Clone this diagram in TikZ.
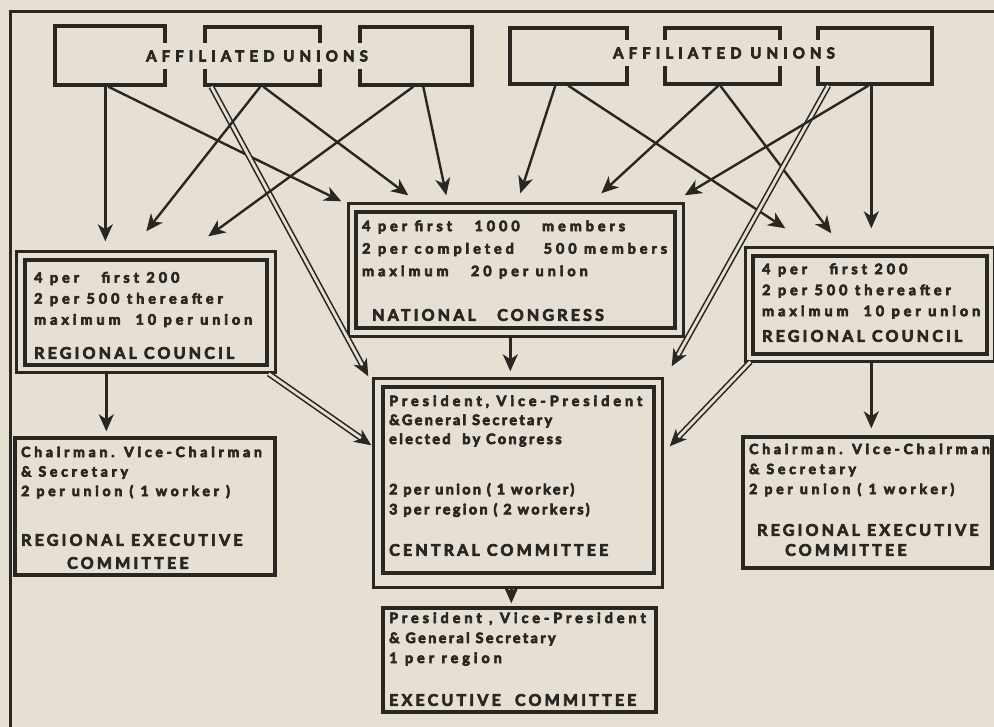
\documentclass[tikz,border=0pt]{standalone}
\usepackage{fontspec}
\newfontfamily\lblfont{Lato}[LetterSpace=28]
\newfontfamily\tightfont{Lato}[LetterSpace=17]
\newfontfamily\recfont{Lato}[LetterSpace=27]
\newfontfamily\capfont{Lato}[LetterSpace=20]
\newfontfamily\aufont{Lato}[LetterSpace=34]
\usetikzlibrary{arrows.meta,calc}
\definecolor{paper}{HTML}{E6E0D4}
\definecolor{ink}{HTML}{2A2622}
\begin{document}
\begin{tikzpicture}[x=1pt,y=-1pt,
  heavy/.style={execute at begin node={\special{pdf:literal direct 2 Tr 0.7 w}},
    execute at end node={\special{pdf:literal direct 0 Tr}}},
  box/.style={draw=ink,line width=3.4pt,inner sep=0pt,fill=none},
  outerbox/.style={draw=ink,line width=2.8pt},
  txt/.style={heavy,text=ink,anchor=west,inner sep=0pt,align=left,
    font=\lblfont\bfseries\fontsize{14.3}{21}\selectfont},
  rectxt/.style={txt,font=\recfont\bfseries\fontsize{14}{19.5}\selectfont},
  captxt/.style={heavy,text=ink,anchor=west,inner sep=0pt,
    font=\capfont\bfseries\fontsize{16}{18}\selectfont},
  au/.style={heavy,text=ink,fill=paper,inner xsep=2pt,inner ysep=7pt,
    font=\aufont\bfseries\fontsize{15}{17}\selectfont},
  arr/.style={draw=ink,line width=2.4pt,-{Stealth[length=17pt,width=15pt,inset=5pt]}},
  dbl/.style={draw=ink,line width=1.6pt,double=paper,double distance=2.8pt,
    -{Stealth[length=17pt,width=15pt,inset=5pt]}}
]
\useasboundingbox (0,0) rectangle (994,727);
\fill[paper] (0,0) rectangle (994,727);
% outer frame
\draw[ink,line width=3pt] (10,740) -- (10,12) -- (1000,12);

% affiliated union boxes
\node[box,minimum width=110pt,minimum height=59pt] (u1) at (110,55.5) {};
\node[box,minimum width=115pt,minimum height=58pt] (u2) at (262.5,56) {};
\node[box,minimum width=112pt,minimum height=58pt] (u3) at (416,56) {};
\node[box,minimum width=117pt,minimum height=56pt] (u4) at (568.5,56) {};
\node[box,minimum width=115pt,minimum height=56pt] (u5) at (722.5,56) {};
\node[box,minimum width=114pt,minimum height=56pt] (u6) at (875,56) {};
\node[au] (au1) at (257,56) {AFFILIATED UNIONS};
\node[au] (au2) at (724,53) {AFFILIATED UNIONS};

% regional council left
\node[box,minimum width=242pt,minimum height=105pt] (rcl) at (146,312.5) {};
\draw[outerbox] ([shift={(-7pt,7pt)}]rcl.north west) rectangle ([shift={(7pt,-6pt)}]rcl.south east);
\node[txt] (rclt) at (34,299.5) {4 per\ \ \ first 200\\2 per 500 thereafter\\maximum\ \ 10 per union};
\node[captxt] (rcll) at (34,353) {REGIONAL COUNCIL};

% regional council right
\node[box,minimum width=234pt,minimum height=98pt] (rcr) at (870,305) {};
\draw[outerbox] ([shift={(-6pt,7pt)}]rcr.north west) rectangle ([shift={(6pt,-6pt)}]rcr.south east);
\node[txt] (rcrt) at (762,291) {4 per\ \ \ first 200\\2 per 500 thereafter\\maximum\ \ 10 per union};
\node[captxt] (rcrl) at (762,336) {REGIONAL COUNCIL};

% national congress
\node[box,minimum width=319pt,minimum height=116pt] (nc) at (515.5,270) {};
\draw[outerbox] ([shift={(-6pt,7pt)}]nc.north west) rectangle ([shift={(7pt,-7pt)}]nc.south east);
\node[txt,font=\lblfont\bfseries\fontsize{14.3}{22.5}\selectfont] (nct) at (362,249.5) {4 per first\ \ \ 1000\ \ \ members\\2 per completed\ \ \ \ 500 members\\maximum\ \ \ 20 per union};
\node[captxt] (ncl) at (372,315) {NATIONAL\ \ \ CONGRESS};

% central committee
\node[box,minimum width=271pt,minimum height=186pt] (cc) at (518.5,480) {};
\draw[outerbox] ([shift={(-8pt,7pt)}]cc.north west) rectangle ([shift={(7pt,-13pt)}]cc.south east);
\node[txt,font=\lblfont\bfseries\fontsize{14.3}{19}\selectfont] (cct) at (389,421) {President, Vice-President\\{\tightfont\bfseries \&General Secretary}\\{\tightfont\bfseries elected\ \ by Congress}};
\node[txt,font=\tightfont\bfseries\fontsize{14.3}{20}\selectfont] (cct2) at (389,500) {2 per union ( 1 worker)\\3 per region ( 2 workers)};
\node[captxt] (ccl) at (389,550) {CENTRAL COMMITTEE};

% executive committee
\node[box,minimum width=273pt,minimum height=104pt] (ec) at (519.5,660) {};
\node[txt,font=\lblfont\bfseries\fontsize{14.3}{20}\selectfont] (ect) at (389,639) {President , Vice-President\\{\tightfont\bfseries \& General Secretary}\\1 per region};
\node[captxt] (ecl) at (389,700) {EXECUTIVE\ \ COMMITTEE};

% regional executive committee left
\node[box,minimum width=260pt,minimum height=137pt] (recl) at (145,506.5) {};
\node[rectxt] (reclt) at (21,472.5) {Chairman. Vice-Chairman\\\& Secretary\\2 per union ( 1 worker )};
\node[captxt] (recll1) at (21,540) {REGIONAL EXECUTIVE};
\node[captxt] (recll2) at (67,563) {COMMITTEE};

% regional executive committee right
\node[box,minimum width=249pt,minimum height=131pt] (recr) at (867.5,502.5) {};
\node[rectxt,font=\recfont\bfseries\fontsize{14}{20}\selectfont] (recrt) at (749,470) {Chairman. Vice-Chairman\\\& Secretary\\2 per union ( 1 worker)};
\node[captxt] (recrl1) at (757,530) {REGIONAL EXECUTIVE};
\node[captxt] (recrl2) at (785,550) {COMMITTEE};

% connectors from affiliated unions (left)
\draw[arr] ([xshift=52pt]u1.south west) -- ([shift={(82pt,17pt)}]rcl.north west);
\draw[arr] ([xshift=55pt]u1.south west) -- ([shift={(-13pt,9pt)}]nc.north west);
\draw[dbl] ([xshift=8pt]u2.south west) -- ([shift={(-13pt,9pt)}]cc.north west);
\draw[arr] ([xshift=57pt]u2.south west) -- ([shift={(123pt,27pt)}]rcl.north west);
\draw[arr] ([xshift=60pt]u2.south west) -- ([shift={(54pt,15pt)}]nc.north west);
\draw[arr] ([xshift=55pt]u3.south west) -- ([shift={(185pt,22pt)}]rcl.north west);
\draw[arr] ([xshift=65pt]u3.south west) -- ([shift={(92pt,15pt)}]nc.north west);
% connectors from affiliated unions (right)
\draw[arr] ([xshift=47pt]u4.south west) -- ([shift={(166pt,17pt)}]nc.north west);
\draw[arr] ([xshift=60pt]u4.south west) -- ([shift={(34pt,26pt)}]rcr.north west);
\draw[arr] ([xshift=55pt]u5.south west) -- ([shift={(247pt,17pt)}]nc.north west);
\draw[arr] ([xshift=57pt]u5.south west) -- ([shift={(80pt,21pt)}]rcr.north west);
\draw[dbl] ([xshift=12pt]u6.south west) -- ([shift={(16pt,19pt)}]cc.north east);
\draw[arr] ([xshift=52pt]u6.south west) -- ([shift={(8pt,15pt)}]nc.north east);
\draw[arr] ([xshift=55pt]u6.south west) -- ([shift={(120pt,26pt)}]rcr.north west);
% lower connectors
\draw[arr] ([shift={(83pt,-7pt)}]rcl.south west) -- ([shift={(93pt,5pt)}]recl.north west);
\draw[dbl] ([shift={(0pt,-7pt)}]rcl.south east) -- ([shift={(-10pt,-60pt)}]cc.north west);
\draw[arr] ([shift={(156pt,-7pt)}]nc.south west) -- ([shift={(129pt,14pt)}]cc.north west);
\draw[dbl] ([shift={(-1pt,-6pt)}]rcr.south west) -- ([shift={(14pt,-61pt)}]cc.north east);
\draw[arr] ([shift={(120pt,-6pt)}]rcr.south west) -- ([shift={(130pt,7pt)}]recr.north west);
\draw[arr] ([shift={(130pt,-13pt)}]cc.south west) -- ([shift={(130pt,3pt)}]ec.north west);
\end{tikzpicture}
\end{document}
